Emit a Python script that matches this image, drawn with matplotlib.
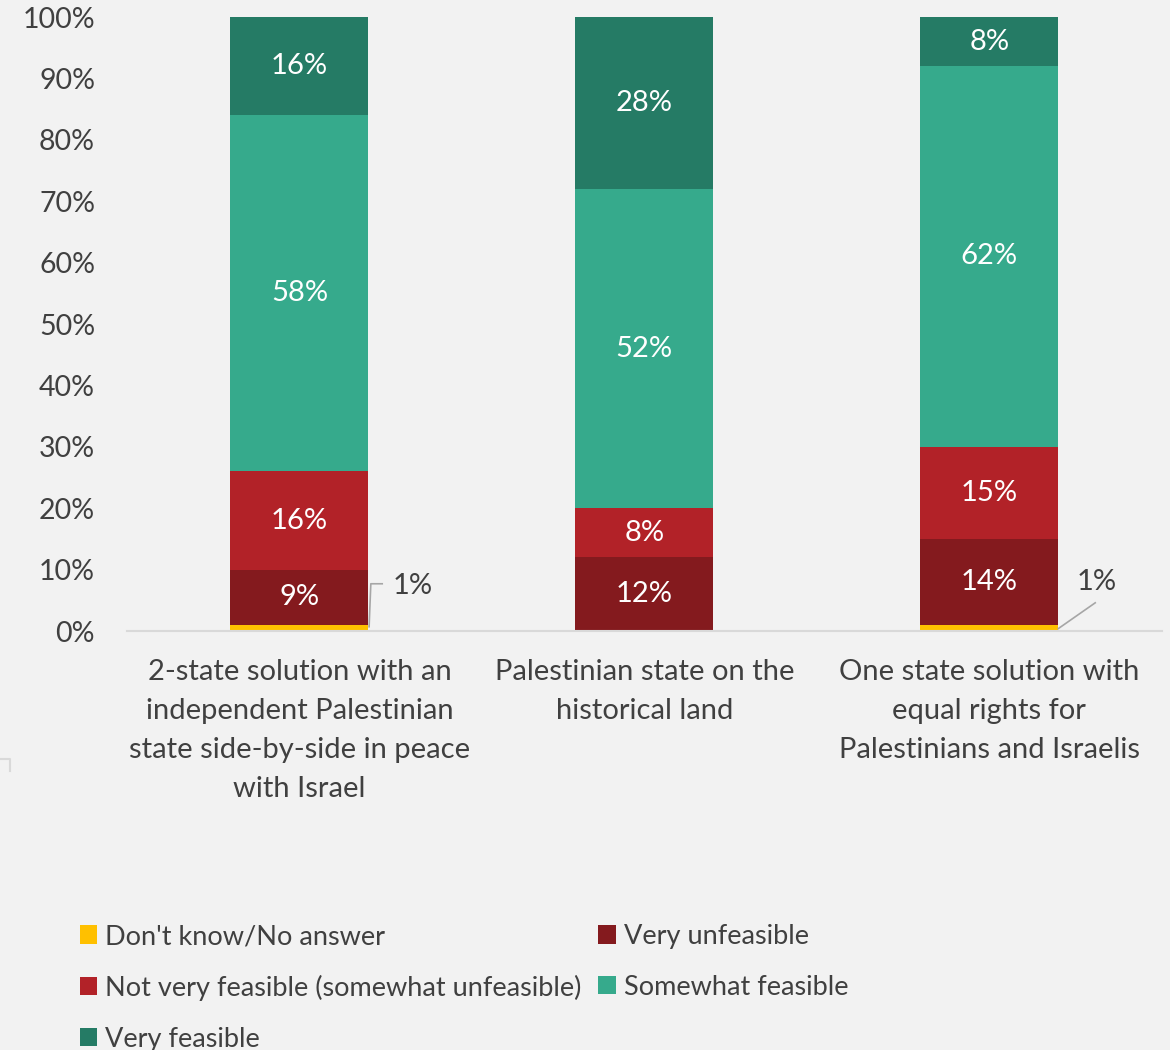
import numpy as np
import matplotlib.pyplot as plt
from matplotlib.lines import Line2D

plt.rcParams['font.family'] = ['Lato', 'DejaVu Sans']

categories = ['2-state solution with an\nindependent Palestinian\nstate side-by-side in peace\nwith Israel',
              'Palestinian state on the\nhistorical land',
              'One state solution with\nequal rights for\nPalestinians and Israelis']
series = ["Don't know/No answer", 'Very unfeasible',
          'Not very feasible (somewhat unfeasible)', 'Somewhat feasible', 'Very feasible']
dont_know = [1, 0, 1]
very_unfeasible = [9, 12, 14]
not_very_feasible = [16, 8, 15]
somewhat_feasible = [58, 52, 62]
very_feasible = [16, 28, 8]
colors = ['#FFC000', '#841A1E', '#B22228', '#36AA8C', '#257B65']

BG = '#F2F2F2'
TXT = '#404040'

fig = plt.figure(figsize=(11.7, 10.5), dpi=100, facecolor=BG)
ax = fig.add_axes([0.1085, 0.399, 0.8845, 0.5848])
ax.set_facecolor(BG)

x = np.arange(len(categories))
bottom = np.zeros(len(categories))
handles = []
for i, (name, vals) in enumerate(zip(series, [dont_know, very_unfeasible, not_very_feasible,
                                               somewhat_feasible, very_feasible])):
    vals = np.array(vals, dtype=float)
    bars = ax.bar(x, vals, 0.4, bottom=bottom, color=colors[i], label=name, zorder=2)
    handles.append(bars)
    if i > 0:
        for xi, v, b in zip(x, vals, bottom):
            if v > 0:
                ax.text(xi, b + v / 2, f'{int(v)}%', ha='center', va='center',
                        color='white', fontsize=21, zorder=3)
    bottom += vals

# leader lines for the small "Don't know" values
ax.plot([0.202, 0.207, 0.24], [0.7, 7.7, 7.7], color='#A6A6A6', lw=1.2, zorder=3, clip_on=False)
ax.text(0.269, 7.4, f'{dont_know[0]}%', ha='left', va='center', color=TXT, fontsize=21)
ax.plot([2.2, 2.307], [0.4, 4.6], color='#A6A6A6', lw=1.2, zorder=3, clip_on=False)
ax.text(2.31, 8.0, f'{dont_know[2]}%', ha='center', va='center', color=TXT, fontsize=21)

ax.set_xlim(-0.5, 2.5)
ax.set_ylim(0, 100)
ax.set_yticks(np.arange(0, 101, 10))
ax.set_yticklabels([f'{t}%' for t in range(0, 101, 10)])
ax.set_xticks(x)
ax.set_xticklabels(categories, linespacing=1.62)
ax.tick_params(axis='both', length=0, labelsize=20.5, labelcolor=TXT)
ax.tick_params(axis='x', labelsize=21, pad=20)
ax.tick_params(axis='y', pad=23)
for s in ['top', 'right', 'left']:
    ax.spines[s].set_visible(False)
ax.spines['bottom'].set_color('#D9D9D9')
ax.spines['bottom'].set_linewidth(1.5)

# row-major legend order like the original
order = [0, 2, 4, 1, 3]
leg = fig.legend(handles=[handles[k] for k in order], loc='upper left',
                 bbox_to_anchor=(0.068, 0.12),
                 ncol=2, frameon=False, fontsize=19.5, handlelength=0.65, handleheight=0.65,
                 handletextpad=0.3, columnspacing=0.6, labelspacing=0.95, labelcolor=TXT,
                 borderaxespad=0, borderpad=0)

# small frame corner on the left edge
fig.add_artist(Line2D([0, 10 / 1170, 10 / 1170], [1 - 759 / 1050, 1 - 759 / 1050, 1 - 771 / 1050],
                      color='#D9D9D9', lw=1.5))

fig.savefig('out.png', dpi=100, facecolor=BG)
